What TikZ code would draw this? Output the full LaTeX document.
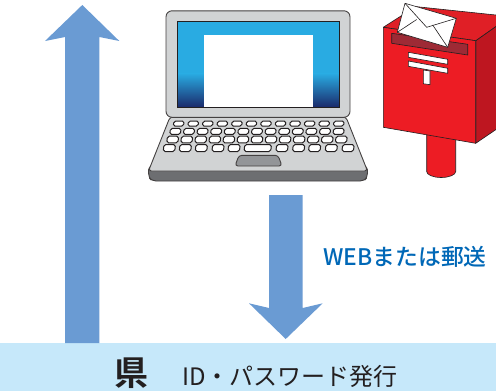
\documentclass[tikz,border=0pt]{standalone}
\usepackage{fontspec}
\setmainfont{Noto Sans CJK JP}
\newfontfamily\cjkbold{Noto Sans CJK JP Bold}
\newfontfamily\cjkmedium{Noto Sans CJK JP Medium}
\definecolor{arrowblue}{HTML}{6A9BD3}
\definecolor{bandblue}{HTML}{C6E8FA}
\definecolor{lidgrey}{HTML}{D1D3D4}
\definecolor{darkgrey}{HTML}{6D6E71}
\definecolor{padgrey}{HTML}{939598}
\definecolor{screenblue}{HTML}{29ABE2}
\definecolor{screendark}{HTML}{1B2A6B}
\definecolor{postred}{HTML}{ED1C24}
\definecolor{postside}{HTML}{BE1620}
\definecolor{posttop}{HTML}{E01F26}
\definecolor{slotred}{HTML}{9E2A35}
\definecolor{linkblue}{HTML}{0068B7}
\definecolor{inkdark}{HTML}{231F20}
\tikzset{
  flowarrow/.style={fill=arrowblue,draw=none},
  laptopline/.style={draw=inkdark!85,line width=0.9pt,line join=round},
  keycap/.style={fill=white,draw=inkdark,line width=1pt,rounded corners=1.8pt},
  postline/.style={draw=inkdark,line width=0.6pt,line join=round},
  envline/.style={draw=inkdark,line width=0.6pt,line join=round},
}
\newcommand{\keyat}[4]{\path[keycap] (#1,#3) -- (#2,#3) -- (#2-0.8,#4) -- (#1-0.8,#4) -- cycle;}
\begin{document}
\begin{tikzpicture}[x=1pt,y=-1pt]
\useasboundingbox (0,0) rectangle (496,391);
\clip (0,0) rectangle (496,391);
\fill[white] (0,0) rectangle (496,391);
% band
\fill[bandblue] (0,343) rectangle (496,391);
% up arrow
\path[flowarrow] (65,343) -- (65,37) -- (45,41) -- (82.3,5) -- (119.3,41) -- (99.3,37) -- (99.3,343) -- cycle;
% down arrow
\path[flowarrow] (269,195) -- (302.7,195) -- (302.7,308) -- (322.7,303.3) -- (285.7,339) -- (249,303.3) -- (269,308) -- cycle;
% laptop base
\path[laptopline,fill=darkgrey,rounded corners=4pt] (148.5,166) -- (148.5,177) -- (152,181) -- (364,181) -- (367.5,177) -- (367.5,166) -- cycle;
\path[laptopline,fill=lidgrey,rounded corners=3pt] (170,117) -- (346,117) -- (367.5,171) -- (148.5,171) -- cycle;
% keys
\foreach \i in {0,...,11} {
  \pgfmathsetmacro{\a}{174+\i*14.55}
  \pgfmathsetmacro{\b}{\a+10.2}
  \keyat{\a}{\b}{121}{126.2}
}
\foreach \i in {0,...,12} {
  \pgfmathsetmacro{\a}{170.5+\i*13.6}
  \pgfmathsetmacro{\b}{\a+10.6}
  \keyat{\a}{\b}{128.4}{134.4}
}
\foreach \i in {0,...,12} {
  \pgfmathsetmacro{\a}{167.5+\i*14.05}
  \pgfmathsetmacro{\b}{\a+11.2}
  \keyat{\a}{\b}{136.2}{142.8}
}
\foreach \a in {164,180,196,212.7,228.7,276.7,293.3,309.3,326,342.7} {
  \pgfmathsetmacro{\b}{\a+11.5}
  \keyat{\a}{\b}{144.5}{151.5}
}
\keyat{244.8}{271.5}{144.5}{151.5}
\path[laptopline,fill=padgrey,rounded corners=3pt] (239,155.3) -- (278,155.3) -- (282,166) -- (235,166) -- cycle;
% lid
\path[laptopline,fill=lidgrey,rounded corners=6pt] (166,10.8) rectangle (350,117.3);
\fill[screenblue] (177.3,21.7) rectangle (339,74);
\shade[top color=screenblue,bottom color=screendark] (177.3,73.5) rectangle (339,107);
\fill[white] (204,35) rectangle (313,107);
\draw[inkdark,line width=0.8pt] (177.3,21.7) rectangle (339,107);
% post box pole
\path[postline,fill=postred] (426.7,130) -- (426.7,171.5) arc[start angle=180,end angle=360,x radius=14.5,y radius=-6] -- (455.7,130) -- cycle;
% post box
\path[postline,fill=postside] (475.7,40.7) -- (510,16.5) -- (510,120) -- (475.7,143.3) -- cycle;
\path[postline,fill=posttop] (383.3,27.3) -- (415.7,6.6) -- (510,16.5) -- (475.7,40.7) -- cycle;
\path[postline,fill=postred] (383.3,27.3) -- (475.7,40.7) -- (475.7,143.3) -- (383.3,127.3) -- cycle;
\path[postline,fill=slotred] (391.7,33.3) -- (467.7,44.3) -- (467.7,55) -- (391.7,43.3) -- cycle;
\path[postline,fill=white] (408.3,52.3) -- (447.7,59.3) -- (447.7,64.3) -- (408.3,57.3) -- cycle;
\path[postline,fill=white] (408.3,61) -- (447.7,68.3) -- (447.7,73.3) -- (408.3,66.3) -- cycle;
\path[postline,fill=white] (423.3,70) -- (430,71) -- (430,84.7) -- (423.3,83.7) -- cycle;
% envelope
\path[envline,fill=white] (405,3.3) -- (456.3,18.3) -- (447.7,47.3) -- (397.3,32.3) -- cycle;
\draw[envline] (405,3.3) -- (426.7,27.3) -- (456.3,18.3);
\draw[envline] (397.3,32.3) -- (416.7,19.5);
\draw[envline] (447.7,47.3) -- (432.7,25);
% texts
\node[anchor=center,text=linkblue,font=\fontsize{22.8}{25}\cjkmedium,inner sep=0pt] (web) at (405,257) {WEBまたは郵送};
\node[anchor=center,text=inkdark,font=\fontsize{34}{36}\cjkbold,inner sep=0pt] (ken) at (131,373.5) {県};
\node[anchor=center,text=inkdark,font=\fontsize{24}{26}\selectfont,inner sep=0pt] (id) at (290,376) {ID・パスワード発行};
\end{tikzpicture}
\end{document}
